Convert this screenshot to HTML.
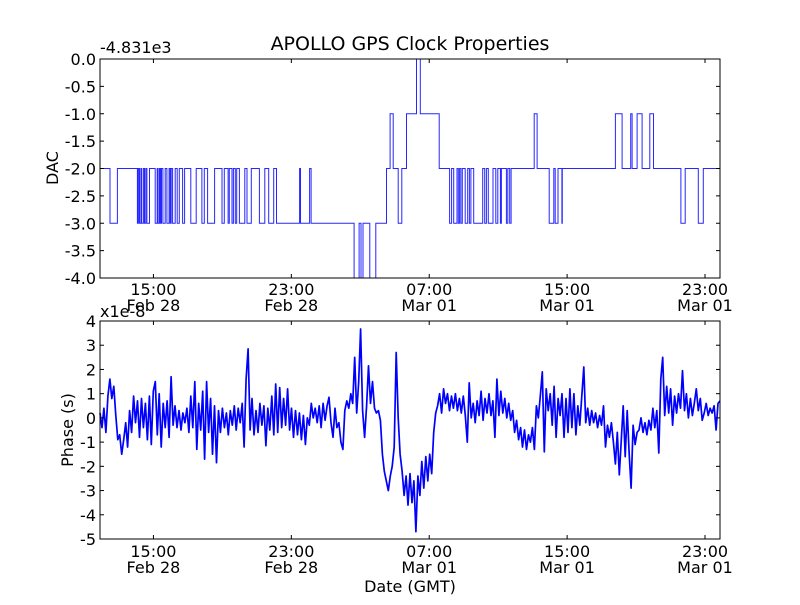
<!DOCTYPE html>
<html><head><meta charset="utf-8"><style>
html,body{margin:0;padding:0;background:#fff;}
svg text{font-family:"DejaVu Sans","Liberation Sans",sans-serif;fill:#000;}
</style></head><body>
<svg id="chart" width="800" height="600" viewBox="0 0 800 600" xmlns="http://www.w3.org/2000/svg">
<rect width="800" height="600" fill="#fff"/>
<text x="410" y="50" font-size="19" text-anchor="middle">APOLLO GPS Clock Properties</text>
<text x="100" y="53" font-size="16">-4.831e3</text>
<text x="100" y="317" font-size="16">x1e-8</text>
<text transform="translate(58,168) rotate(-90)" font-size="16" text-anchor="middle">DAC</text>
<text transform="translate(73,430) rotate(-90)" font-size="16" text-anchor="middle">Phase (s)</text>
<text x="410" y="592" font-size="16" text-anchor="middle">Date (GMT)</text>
<g id="g"></g>
</svg>
<script>
// ---- data ----
const xMinH = 11.9, xMaxH = 47.87; // hours since Feb 28 00:00
const xTickHours = [15, 23, 31, 39, 47];
const xTickTimes = ["15:00", "23:00", "07:00", "15:00", "23:00"];
const xTickDates = ["Feb 28", "Feb 28", "Mar 01", "Mar 01", "Mar 01"];
const dacTicks = [0, -0.5, -1, -1.5, -2, -2.5, -3, -3.5, -4];
const dacTickLabels = ["0.0", "-0.5", "-1.0", "-1.5", "-2.0", "-2.5", "-3.0", "-3.5", "-4.0"];
const phaseTicks = [4, 3, 2, 1, 0, -1, -2, -3, -4, -5];
const dacTimes = [11.9,12.48,12.91,14.07,14.13,14.19,14.27,14.32,14.42,14.48,14.56,14.62,14.77,15.10,15.22,15.27,15.35,15.41,15.47,15.55,15.68,15.78,15.91,15.97,16.03,16.11,16.26,16.38,16.50,16.69,16.81,17.17,17.48,17.81,17.95,18.14,18.55,18.98,19.11,19.33,19.40,19.56,19.64,19.75,19.83,19.99,20.30,20.43,20.68,21.15,21.46,21.69,21.98,22.14,23.48,23.53,24.06,24.15,26.64,26.93,27.04,27.16,27.55,27.90,28.52,28.73,28.91,29.20,29.41,29.68,30.26,30.48,31.58,32.18,32.30,32.42,32.61,32.69,32.76,32.84,32.92,33.09,33.23,33.33,33.42,33.58,34.10,34.22,34.32,34.43,34.70,34.86,34.98,35.13,35.19,35.48,35.56,35.67,35.75,37.09,37.26,37.96,38.23,38.31,38.47,38.70,38.72,41.80,42.19,42.69,42.77,43.06,43.35,43.80,44.01,45.60,45.85,46.61,46.90];
const dacValues = [-2,-3,-2,-3,-2,-3,-2,-3,-2,-3,-2,-3,-2,-3,-2,-3,-2,-3,-2,-3,-2,-3,-2,-3,-2,-3,-2,-3,-2,-3,-2,-3,-2,-3,-2,-3,-2,-3,-2,-3,-2,-3,-2,-3,-2,-3,-2,-3,-2,-3,-2,-3,-2,-3,-2,-3,-2,-3,-4,-3,-4,-3,-4,-3,-2,-1,-2,-3,-2,-1,0,-1,-2,-3,-2,-3,-2,-3,-2,-3,-2,-3,-2,-3,-2,-3,-2,-3,-2,-3,-2,-3,-2,-3,-2,-3,-2,-3,-2,-1,-2,-3,-2,-3,-2,-3,-2,-1,-2,-1,-2,-1,-2,-1,-2,-3,-2,-3,-2];
const phaseValues = [
0.2,-0.4,0.4,-0.6,0.9,1.6,0.8,1.3,0.1,-0.9,-0.7,-1.5,-0.9,-0.2,-1.2,0.3,-0.6,0.9,-0.2,0.7,-0.8,0.8,-0.4,0.6,-0.9,0.9,-1.1,1.1,1.5,-0.7,1.0,-1.2,0.6,-0.4,0.7,-0.8,1.7,-0.3,0.5,-0.4,0.3,-0.5,0.2,-0.2,0.4,-0.6,0.9,-0.4,1.5,-1.3,0.6,-0.5,1.1,-1.7,1.5,-0.6,0.8,-1.5,0.5,-1.85,0.3,-0.6,0.4,-0.4,0.2,-0.7,0.3,-0.3,0.5,-0.5,0.4,-0.2,0.6,-1.2,1.6,2.85,-0.5,0.8,-0.7,
0.3,-0.6,0.6,-0.3,0.5,-1.15,0.4,-0.5,0.9,-0.7,1.4,-0.6,1.25,-0.4,0.8,-0.3,1.2,-0.5,0.4,-0.8,0.3,-0.7,0.2,-0.9,0.1,-1.1,0.0,-0.3,0.6,0.0,0.4,-0.2,0.5,-0.4,0.6,-0.1,0.5,0.85,-0.2,-0.8,0.4,-0.4,-0.2,-1.0,-1.3,0.3,0.7,0.4,1.0,0.6,2.5,0.2,1.5,3.67,0.3,-0.8,0.5,2.15,0.6,1.5,0.4,0.2,0.3,-0.1,-1.5,-2.2,-2.6,-3.0,-2.4,-2.0,-1.2,2.7,0.0,-1.5,-2.2,-3.2,-2.4,-3.6,
-2.3,-3.5,-2.6,-4.7,-2.4,-3.2,-1.8,-2.9,-1.6,-2.6,-1.5,-2.3,-0.6,0.2,0.5,1.0,0.2,1.2,0.6,1.0,0.3,0.9,0.4,1.0,0.3,0.8,0.2,0.9,0.1,-1.0,1.45,0.0,0.6,-0.2,0.7,0.1,1.1,-0.1,0.8,0.2,1.0,0.1,0.7,-0.8,1.6,0.1,1.1,0.2,0.8,0.0,0.6,-0.1,0.3,-0.6,-0.1,-0.9,-0.4,-1.2,-0.5,-1.3,-0.7,-1.0,-0.4,-1.3,0.5,0.0,0.9,1.9,-1.4,1.2,0.3,1.0,-0.3,1.3,-0.8,0.8,0.1,1.0,-0.8,
0.8,-0.6,1.2,-0.4,1.0,-0.7,0.5,-0.3,0.9,2.1,-0.2,0.4,-0.3,0.3,-0.2,0.2,-0.4,0.1,-0.3,0.5,-1.2,-0.3,-0.8,-0.2,-1.0,-1.9,-0.6,-2.35,-0.9,0.5,-1.6,0.3,-1.5,-2.9,-0.3,-1.1,-0.6,-0.5,0.0,-0.6,-0.2,-0.7,-0.1,-0.5,0.4,-0.4,0.3,-1.45,1.6,2.5,0.1,1.3,0.2,1.2,-0.3,0.9,0.2,1.0,0.4,1.95,0.3,1.0,0.0,0.8,0.1,0.6,1.2,0.3,0.8,-0.1,0.2,0.6,0.1,0.4,0.2,0.5,-0.5,0.6,0.7];

// ---- layout ----
const L = 100, R = 720;
const top1 = 59, bot1 = 278, top2 = 321, bot2 = 539;
const xs = h => L + (h - xMinH) / (xMaxH - xMinH) * (R - L);
const y1 = v => top1 + (0 - v) / 4 * (bot1 - top1);
const y2 = v => top2 + (4 - v) / 9 * (bot2 - top2);
const NS = "http://www.w3.org/2000/svg";
const g = document.getElementById('g');
function mk(tag, attrs, parent) {
  const e = document.createElementNS(NS, tag);
  for (const k in attrs) e.setAttribute(k, attrs[k]);
  (parent || g).appendChild(e);
  return e;
}

// DAC step line
let d = "";
for (let i = 0; i < dacTimes.length; i++) {
  const x = xs(dacTimes[i]);
  const y = y1(dacValues[i]);
  if (i === 0) d += `M${x.toFixed(1)},${y.toFixed(1)}`;
  else d += `H${x.toFixed(1)}V${y.toFixed(1)}`;
}
d += `H${xs(xMaxH).toFixed(1)}`;
const dacLine = mk('path', {d: d, fill: 'none', stroke: '#0000ff', 'stroke-width': 1, 'stroke-opacity': 0.85});



// Phase line
const n = phaseValues.length;
let pd = "";
for (let i = 0; i < n; i++) {
  const t = xMinH + i * (xMaxH - xMinH) / (n - 1);
  pd += (i ? "L" : "M") + xs(t).toFixed(1) + "," + y2(phaseValues[i]).toFixed(1);
}
const phaseLine = mk('path', {d: pd, fill: 'none', stroke: '#0000ff', 'stroke-width': 1.7, 'stroke-linejoin': 'round'});



// Axes frames
[[top1, bot1, 'dac-axes-frame'], [top2, bot2, 'phase-axes-frame']].forEach(([t, b, nm]) => {
  const r = mk('rect', {x: L, y: t, width: R - L, height: b - t, fill: 'none', stroke: '#000', 'stroke-width': 1});
  
  
});

// X ticks & labels
[[top1, bot1, 295, 311], [top2, bot2, 557, 573]].forEach(([t, b, ly1, ly2]) => {
  xTickHours.forEach((h, i) => {
    const x = xs(h);
    mk('line', {x1: x, x2: x, y1: b, y2: b - 4, stroke: '#000'});
    mk('line', {x1: x, x2: x, y1: t, y2: t + 4, stroke: '#000'});
    const a = mk('text', {x: x, y: ly1, 'font-size': 16, 'text-anchor': 'middle'});
    a.textContent = xTickTimes[i];
    
    
    const c = mk('text', {x: x, y: ly2, 'font-size': 16, 'text-anchor': 'middle'});
    c.textContent = xTickDates[i];
    
    
  });
});

// DAC y ticks
dacTicks.forEach((v, i) => {
  const y = y1(v);
  mk('line', {x1: L, x2: L + 4, y1: y, y2: y, stroke: '#000'});
  mk('line', {x1: R, x2: R - 4, y1: y, y2: y, stroke: '#000'});
  const tx = mk('text', {x: 96, y: y + 6, 'font-size': 16, 'text-anchor': 'end'});
  tx.textContent = dacTickLabels[i];
  
  
});

// Phase y ticks
phaseTicks.forEach(v => {
  const y = y2(v);
  mk('line', {x1: L, x2: L + 4, y1: y, y2: y, stroke: '#000'});
  mk('line', {x1: R, x2: R - 4, y1: y, y2: y, stroke: '#000'});
  const tx = mk('text', {x: 96, y: y + 6, 'font-size': 16, 'text-anchor': 'end'});
  tx.textContent = String(v);
  
  
});
</script>
</body></html>
